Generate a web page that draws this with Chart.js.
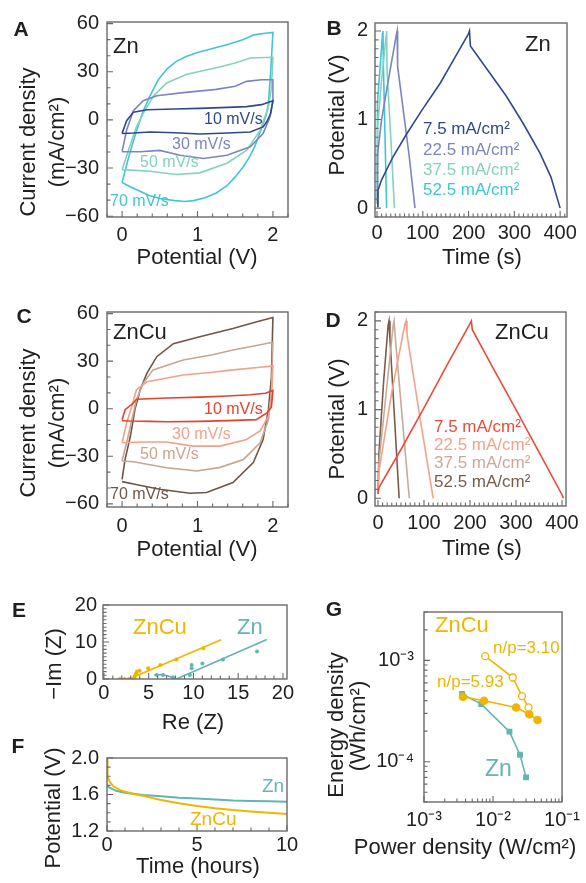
<!DOCTYPE html>
<html><head><meta charset="utf-8">
<script src="https://cdn.jsdelivr.net/npm/chart.js@4.4.1/dist/chart.umd.min.js"></script>
<style>
html,body{margin:0;padding:0;background:#fff;}
#wrap{position:relative;width:586px;height:883px;overflow:hidden;background:#fff;}
canvas{position:absolute;left:0;top:0;}
</style></head><body><div id="wrap">
<canvas id="cA" width="586" height="883"></canvas>
<canvas id="cB" width="586" height="883"></canvas>
<canvas id="cC" width="586" height="883"></canvas>
<canvas id="cD" width="586" height="883"></canvas>
<canvas id="cE" width="586" height="883"></canvas>
<canvas id="cF" width="586" height="883"></canvas>
<canvas id="cG" width="586" height="883"></canvas>
</div>
<script>
// ---------------- DATA ----------------
const scanRates = ['10 mV/s', '30 mV/s', '50 mV/s', '70 mV/s'];
const currents = ['7.5 mA/cm²', '22.5 mA/cm²', '37.5 mA/cm²', '52.5 mA/cm²'];

// Panel A: CV of Zn (potential V, current density mA/cm2)
const cvZn10 = [[0,-8.5],[0.06,-0.5],[0.15,4.8],[0.33,6.3],[0.7,6.8],[1.03,7.2],[1.4,7.8],[1.65,8.3],[1.85,9.5],[2.0,12],
  [1.97,4],[1.92,-1],[1.87,-4.4],[1.7,-7.5],[1.4,-8.2],[1.03,-8.8],[0.7,-8],[0.37,-7.5],[0.15,-8.2],[0,-8.5]];
const cvZn30 = [[0,-19.8],[0.06,-6.5],[0.15,5.8],[0.28,12],[0.46,15],[0.81,17],[1.25,19],[1.5,21],[1.65,24],[1.85,25],[2.0,25],
  [2.0,12],[1.96,1.7],[1.87,-8.5],[1.7,-16.7],[1.39,-22],[1.08,-24],[0.77,-22],[0.5,-19],[0.24,-19.8],[0,-19.8]];
const cvZn50 = [[0,-31],[0.1,-16.7],[0.19,-4.4],[0.3,5.8],[0.42,15],[0.59,23],[0.86,28.4],[1.25,32.5],[1.5,35.5],[1.7,38.6],[2.0,39],
  [1.98,20],[1.94,8],[1.83,-6.5],[1.65,-19],[1.39,-27],[1.03,-33],[0.72,-34],[0.37,-32],[0,-31]];
const cvZn70 = [[0,-39],[0.05,-30],[0.1,-21],[0.19,-7],[0.28,5.5],[0.37,15],[0.48,25],[0.6,32],[0.72,36.5],[0.85,39.5],[1.0,42],[1.2,44.5],[1.4,47],[1.6,50],[1.75,53],[1.9,54],[2.0,54.5],
  [1.985,42],[1.97,30],[1.955,20],[1.94,10],[1.91,3],[1.87,-2.5],[1.82,-9],[1.76,-16.5],[1.69,-23],[1.61,-29],[1.5,-35.5],[1.39,-41],[1.25,-45.5],[1.1,-48.5],[0.95,-50.3],[0.83,-50.8],[0.7,-50.3],[0.5,-49],[0.35,-47],[0.24,-44.5],[0.1,-41.5],[0,-39]];

// Panel C: CV of ZnCu
const cvCu10 = [[0,-6.9],[0.04,-0.6],[0.15,3.6],[0.19,6],[0.6,6.8],[1.03,7.3],[1.4,8],[1.7,8.8],[1.9,9.8],[2.0,11.5],
  [1.98,1],[1.92,-2.7],[1.78,-6.9],[1.4,-7.5],[1.03,-8],[0.6,-8.2],[0.37,-8],[0.1,-7.8],[0,-7.6]];
const cvCu30 = [[0,-21.5],[0.06,-9],[0.13,1.5],[0.19,12],[0.33,17],[0.81,21.3],[1.2,23],[1.47,24.5],[1.8,26],[2.0,27],
  [1.98,7.7],[1.94,-4.8],[1.83,-14],[1.65,-19.4],[1.3,-23.6],[0.94,-23.6],[0.59,-21],[0.3,-21],[0,-21.5]];
const cvCu50 = [[0,-33],[0.06,-21.5],[0.13,-7],[0.19,5.6],[0.28,16],[0.41,24.5],[0.81,30.7],[1.2,34],[1.47,37],[1.8,40],[2.0,42],
  [1.98,9.8],[1.94,-7],[1.83,-21.5],[1.61,-32],[1.3,-37],[0.99,-39.3],[0.59,-37.2],[0.15,-33.5],[0,-33]];
const cvCu70 = [[0,-44.5],[0.04,-32],[0.11,-17.4],[0.17,-0.6],[0.24,12],[0.33,22.4],[0.46,32.8],[0.68,41],[1.03,45.4],[1.47,50.6],[1.8,55],[2.0,57.5],
  [1.98,20],[1.94,-0.6],[1.87,-19.4],[1.74,-34],[1.47,-46.6],[1.12,-52.9],[0.9,-53.3],[0.5,-50.8],[0.2,-48],[0,-46]];

// Panel B: GCD of Zn (time s, potential V)
const gcdZn75 = [[0,0.02],[2,0.2],[10,0.32],[35,0.58],[65,0.84],[100,1.12],[138,1.41],[170,1.7],[200,1.97],[202,2.0],[204,1.83],[240,1.57],[283,1.26],[320,0.95],[356,0.62],[380,0.35],[400,0.0]];
const gcdZn225 = [[0,0.05],[1,0.6],[10,1.0],[25,1.45],[42,1.95],[44,2.0],[45,1.6],[55,1.2],[70,0.6],[83,0.0]];
const gcdZn375 = [[0,0.05],[1,0.9],[10,1.45],[20,1.95],[21,2.0],[22,1.55],[30,0.8],[38,0.0]];
const gcdZn525 = [[0,0.05],[1,1.2],[7,1.6],[12,1.97],[13,2.0],[14,1.6],[18,0.7],[21,0.0]];

// Panel D: GCD of ZnCu
const gcdCu75 = [[0,0.05],[2,0.12],[50,0.55],[100,1.02],[150,1.5],[200,1.97],[203,2.0],[205,1.9],[250,1.47],[300,1.0],[350,0.52],[400,0.04],[403,0]];
const gcdCu225 = [[0,0.05],[2,0.3],[30,1.2],[58,1.95],[61,2.0],[63,1.85],[90,0.95],[120,0.0]];
const gcdCu375 = [[0,0.05],[2,0.4],[20,1.3],[33,1.95],[35,2.0],[37,1.85],[52,0.95],[68,0.0]];
const gcdCu525 = [[0,0.05],[2,0.5],[12,1.3],[22,1.95],[24,2.0],[26,1.8],[36,0.9],[46,0.0]];

// Panel E: Nyquist (Re, -Im)
const nyqCuLine = [[1.5,0],[3.2,0.1],[3.4,0.6],[13.1,10.6]];
const nyqCuPts = [[1.8,0],[2.3,0],[2.8,0],[3.2,0.1],[3.4,0.5],[3.5,1.0],[3.6,1.5],[3.7,2.0],[4.0,2.2],[4.95,2.9],[6.3,3.8],[8.1,5.3],[11.1,8.3]];
const nyqZnLine = [[5.6,1.1],[6.4,1.2],[7.2,0.8],[8.1,0],[18.2,10.7]];
const nyqZnPts = [[5.9,1.1],[6.6,1.1],[7.7,0.5],[9.6,1.1],[9.8,2.9],[9.8,3.8],[11,4.2],[13.3,5.3],[17.1,7.4]];

// Panel F: self-discharge (hours, V)
const sdZn = [[0,1.7],[0.1,1.68],[0.5,1.64],[1,1.62],[2,1.595],[3,1.58],[4,1.565],[5,1.555],[6,1.545],[7,1.535],[8,1.53],[9,1.525],[10,1.52]];
const sdCu = [[0,1.99],[0.03,1.8],[0.15,1.74],[0.35,1.69],[0.7,1.65],[1,1.63],[1.5,1.605],[2,1.585],[3,1.54],[4,1.505],[5,1.475],[6,1.45],[7,1.43],[8,1.415],[9,1.4],[10,1.385]];

// Panel G: Ragone (W/cm2, Wh/cm2)
const powNp310 = [7.7e-3, 0.0193, 0.0263, 0.0327];
const engNp310 = [1.1e-3, 6.77e-4, 4.44e-4, 3.43e-4];
const powNp593 = [3.67e-3, 7.4e-3, 0.0216, 0.0335, 0.0442];
const engNp593 = [4.37e-4, 3.99e-4, 3.43e-4, 2.94e-4, 2.58e-4];
const powZn = [3.56e-3, 6.76e-3, 0.0173, 0.0246, 0.0301];
const engZn = [4.65e-4, 3.7e-4, 1.98e-4, 1.17e-4, 7.0e-5];

// Tick values and labels
const cvXTicks = [0, 1, 2], cvXLabels = ['0', '1', '2'];
const cvYTicks = [60, 30, 0, -30, -60], cvYLabels = ['60', '30', '0', '\u221230', '\u221260'];
const gcdXTicks = [0, 100, 200, 300, 400], gcdXLabels = ['0', '100', '200', '300', '400'];
const gcdYTicks = [0, 1, 2], gcdYLabels = ['0', '1', '2'];
const eisXTicks = [0, 5, 10, 15, 20], eisXLabels = ['0', '5', '10', '15', '20'];
const eisYTicks = [0, 10, 20], eisYLabels = ['0', '10', '20'];
const sdXTicks = [0, 5, 10], sdXLabels = ['0', '5', '10'];
const sdYTicks = [1.2, 1.6, 2.0], sdYLabels = ['1.2', '1.6', '2.0'];
const rgXTicks = [1e-3, 1e-2, 1e-1], rgXLabels = ['10\u207B\u00B3', '10\u207B\u00B2', '10\u207B\u00B9'];
const rgYTicks = [1e-4, 1e-3], rgYLabels = ['10\u207B\u2074', '10\u207B\u00B3'];

// ---------------- STYLE ----------------
const FONT = "'Liberation Sans', Arial, Helvetica, sans-serif";
const W = 586, H = 883;
const C = {
  zn10: '#2f4a8c', zn30: '#7d85bf', zn50: '#84d2bb', zn70: '#3ec6d8',
  cu10: '#e8402e', cu30: '#f4a088', cu50: '#c7a591', cu70: '#6f5646',
  d75: '#ec4a3a', d225: '#f5a18b', d375: '#c9aa98', d525: '#7a5c48',
  gold: '#f1b400', teal: '#62b4b6', ink: '#1f1f1f', axis: '#6a6a6a'
};
const pts = a => a.map(([x, y]) => ({x, y}));
const zip = (xs, ys) => xs.map((x, i) => ({x, y: ys[i]}));
const line = (data, color, w) => ({data: pts(data), showLine: true, borderColor: color, borderWidth: w || 1.6, pointRadius: 0, tension: 0, fill: false});

function tickValues(scale, spec) {
  const out = [];
  if (spec.log) {
    const d0 = Math.floor(Math.log10(scale.min)), d1 = Math.ceil(Math.log10(scale.max));
    for (let d = d0; d <= d1; d++) for (let m = 1; m <= 9; m++) {
      const v = m * Math.pow(10, d);
      if (v >= scale.min * 0.9999 && v <= scale.max * 1.0001) out.push({v, major: m === 1});
    }
  } else {
    const s = spec.step;
    for (let k = Math.ceil(scale.min / s - 1e-9); k * s <= scale.max + 1e-9; k++) {
      const v = k * s;
      out.push({v, major: spec.majors.some(m => Math.abs(m - v) < s / 2)});
    }
  }
  return out;
}

const decor = {
  id: 'decor',
  afterDraw(chart, args, o) {
    const ctx = chart.ctx, a = chart.chartArea;
    const xs = chart.scales.x, ys = chart.scales.y;
    ctx.save();
    ctx.strokeStyle = C.axis;
    ctx.lineWidth = 1.1;
    ctx.beginPath();
    for (const t of tickValues(xs, o.xt)) {
      const p = xs.getPixelForValue(t.v); const L = t.major ? 6 : 3.5;
      ctx.moveTo(p, a.bottom); ctx.lineTo(p, a.bottom - L);
    }
    for (const t of tickValues(ys, o.yt)) {
      const p = ys.getPixelForValue(t.v); const L = t.major ? 6 : 3.5;
      ctx.moveTo(a.left, p); ctx.lineTo(a.left + L, p);
    }
    ctx.stroke();
    ctx.lineWidth = 1.4;
    ctx.strokeRect(a.left, a.top, a.right - a.left, a.bottom - a.top);
    for (const t of o.texts) {
      ctx.save();
      ctx.font = (t.b ? 'bold ' : '') + (t.s || 22) + 'px ' + FONT;
      ctx.fillStyle = t.c || C.ink;
      ctx.textAlign = t.al || 'center';
      ctx.textBaseline = 'middle';
      ctx.translate(t.x, t.y);
      if (t.r) ctx.rotate(-Math.PI / 2);
      ctx.fillText(t.t, 0, 0);
      ctx.restore();
    }
    ctx.restore();
  }
};

function panel(id, cfg) {
  const YW = 50, XH = 40, box = cfg.box;
  const sc = (ax, isX) => ({
    type: ax.type || 'linear',
    position: isX ? 'bottom' : 'left',
    min: ax.min, max: ax.max,
    grid: {display: false, drawTicks: false},
    border: {display: false},
    ticks: {font: {family: FONT, size: 20}, color: C.ink, padding: ax.pad, autoSkip: false, maxRotation: 0, minRotation: 0,
      callback: (v, i) => ax.labels[i]},
    afterBuildTicks: s => { s.ticks = ax.ticks.map(v => ({value: v})); },
    afterFit: s => { if (isX) s.height = XH; else s.width = YW; }
  });
  return new Chart(document.getElementById(id), {
    type: 'scatter',
    data: {datasets: cfg.datasets},
    options: {
      responsive: false, animation: false, events: [],
      layout: {padding: {left: box.l - YW, top: box.t, right: W - box.r, bottom: H - box.b - XH}},
      plugins: {legend: {display: false}, tooltip: {enabled: false},
        decor: {xt: cfg.xt, yt: cfg.yt, texts: cfg.texts}},
      scales: {x: sc(cfg.x, true), y: sc(cfg.y, false)}
    },
    plugins: [decor]
  });
}

// ---------------- PANELS ----------------
panel('cA', {
  box: {l: 107, t: 22, r: 288, b: 217},
  x: {min: -0.2, max: 2.2, ticks: cvXTicks, labels: cvXLabels, pad: 6},
  y: {min: -60.5, max: 61, ticks: cvYTicks, labels: cvYLabels, pad: 8},
  xt: {step: 0.2, majors: cvXTicks}, yt: {step: 10, majors: cvYTicks},
  datasets: [line(cvZn10, C.zn10), line(cvZn30, C.zn30), line(cvZn50, C.zn50), line(cvZn70, C.zn70)],
  texts: [
    {t: 'A', x: 21, y: 30, s: 21, b: true},
    {t: 'Current density', x: 29, y: 142, r: true},
    {t: '(mA/cm²)', x: 58, y: 142, r: true},
    {t: 'Potential (V)', x: 197, y: 258},
    {t: 'Zn', x: 113, y: 47, al: 'left'},
    {t: scanRates[0], x: 204, y: 120, s: 16, c: C.zn10, al: 'left'},
    {t: scanRates[1], x: 172, y: 145, s: 16, c: C.zn30, al: 'left'},
    {t: scanRates[2], x: 140, y: 163, s: 16, c: C.zn50, al: 'left'},
    {t: scanRates[3], x: 110, y: 202, s: 16, c: C.zn70, al: 'left'}
  ]
});

panel('cB', {
  box: {l: 375, t: 23, r: 567, b: 217},
  x: {min: -4.4, max: 415, ticks: gcdXTicks, labels: gcdXLabels, pad: 4.5},
  y: {min: -0.1, max: 2.09, ticks: gcdYTicks, labels: gcdYLabels, pad: 7},
  xt: {step: 10, majors: gcdXTicks}, yt: {step: 0.1, majors: gcdYTicks},
  datasets: [line(gcdZn75, C.zn10), line(gcdZn225, C.zn30), line(gcdZn375, C.zn50), line(gcdZn525, C.zn70)],
  texts: [
    {t: 'B', x: 334, y: 29, s: 21, b: true},
    {t: 'Potential (V)', x: 338, y: 115, r: true},
    {t: 'Time (s)', x: 482, y: 258},
    {t: 'Zn', x: 525, y: 45, al: 'left'},
    {t: currents[0], x: 423, y: 129, s: 17, c: C.zn10, al: 'left'},
    {t: currents[1], x: 423, y: 150, s: 17, c: C.zn30, al: 'left'},
    {t: currents[2], x: 423, y: 170, s: 17, c: C.zn50, al: 'left'},
    {t: currents[3], x: 423, y: 190, s: 17, c: C.zn70, al: 'left'}
  ]
});

panel('cC', {
  box: {l: 107, t: 312, r: 288, b: 507},
  x: {min: -0.2, max: 2.2, ticks: cvXTicks, labels: cvXLabels, pad: 7},
  y: {min: -62, max: 61, ticks: cvYTicks, labels: cvYLabels, pad: 8},
  xt: {step: 0.2, majors: cvXTicks}, yt: {step: 10, majors: cvYTicks},
  datasets: [line(cvCu10, C.cu10), line(cvCu30, C.cu30), line(cvCu50, C.cu50), line(cvCu70, C.cu70)],
  texts: [
    {t: 'C', x: 24, y: 317, s: 21, b: true},
    {t: 'Current density', x: 29, y: 423, r: true},
    {t: '(mA/cm²)', x: 58, y: 423, r: true},
    {t: 'Potential (V)', x: 197, y: 550},
    {t: 'ZnCu', x: 113, y: 333, al: 'left'},
    {t: scanRates[0], x: 204, y: 410, s: 16, c: C.cu10, al: 'left'},
    {t: scanRates[1], x: 172, y: 435, s: 16, c: C.cu30, al: 'left'},
    {t: scanRates[2], x: 140, y: 455, s: 16, c: C.cu50, al: 'left'},
    {t: scanRates[3], x: 110, y: 495, s: 16, c: C.cu70, al: 'left'}
  ]
});

panel('cD', {
  box: {l: 375, t: 312, r: 566, b: 506},
  x: {min: -6.5, max: 408.7, ticks: gcdXTicks, labels: gcdXLabels, pad: 5},
  y: {min: -0.087, max: 2.1, ticks: gcdYTicks, labels: gcdYLabels, pad: 7},
  xt: {step: 10, majors: gcdXTicks}, yt: {step: 0.1, majors: gcdYTicks},
  datasets: [line(gcdCu75, C.d75), line(gcdCu225, C.d225), line(gcdCu375, C.d375), line(gcdCu525, C.d525)],
  texts: [
    {t: 'D', x: 333, y: 321, s: 21, b: true},
    {t: 'Potential (V)', x: 338, y: 419, r: true},
    {t: 'Time (s)', x: 482, y: 549},
    {t: 'ZnCu', x: 495, y: 333, al: 'left'},
    {t: currents[0], x: 434, y: 427, s: 17, c: C.d75, al: 'left'},
    {t: currents[1], x: 434, y: 445, s: 17, c: C.d225, al: 'left'},
    {t: currents[2], x: 434, y: 463, s: 17, c: C.d375, al: 'left'},
    {t: currents[3], x: 434, y: 482, s: 17, c: C.d525, al: 'left'}
  ]
});

panel('cE', {
  box: {l: 103, t: 605, r: 287, b: 679},
  x: {min: -0.1, max: 20.45, ticks: eisXTicks, labels: eisXLabels, pad: 2.5},
  y: {min: 0, max: 20, ticks: eisYTicks, labels: eisYLabels, pad: 6},
  xt: {step: 1, majors: eisXTicks}, yt: {step: 1, majors: eisYTicks},
  datasets: [
    line(nyqCuLine, C.gold, 1.6),
    {data: pts(nyqCuPts), showLine: false, pointRadius: 2, pointBackgroundColor: C.gold, pointBorderWidth: 0},
    line(nyqZnLine, C.teal, 1.6),
    {data: pts(nyqZnPts), showLine: false, pointRadius: 2, pointBackgroundColor: C.teal, pointBorderWidth: 0}
  ],
  texts: [
    {t: 'E', x: 19, y: 611, s: 21, b: true},
    {t: '\u2212Im (Z)', x: 55, y: 664, r: true},
    {t: 'Re (Z)', x: 193, y: 723},
    {t: 'ZnCu', x: 133, y: 628, c: C.gold, al: 'left'},
    {t: 'Zn', x: 237, y: 628, c: C.teal, al: 'left'}
  ]
});

panel('cF', {
  box: {l: 107, t: 758, r: 287, b: 831},
  x: {min: 0, max: 10, ticks: sdXTicks, labels: sdXLabels, pad: 2.5},
  y: {min: 1.2, max: 2.0, ticks: sdYTicks, labels: sdYLabels, pad: 8},
  xt: {step: 1, majors: sdXTicks}, yt: {step: 0.1, majors: sdYTicks},
  datasets: [line(sdCu, C.gold, 2), line(sdZn, C.teal, 2)],
  texts: [
    {t: 'F', x: 18, y: 747, s: 21, b: true},
    {t: 'Potential (V)', x: 54, y: 808, r: true},
    {t: 'Time (hours)', x: 198, y: 867},
    {t: 'Zn', x: 262, y: 787, s: 19, c: C.teal, al: 'left'},
    {t: 'ZnCu', x: 190, y: 820, s: 19, c: C.gold, al: 'left'}
  ]
});

panel('cG', {
  box: {l: 424, t: 612, r: 563, b: 802},
  x: {type: 'logarithmic', min: 1e-3, max: 1e-1, ticks: rgXTicks, labels: rgXLabels, pad: 6},
  y: {type: 'logarithmic', min: 4e-5, max: 3e-3, ticks: rgYTicks, labels: rgYLabels, pad: 10},
  xt: {log: true}, yt: {log: true},
  datasets: [
    {data: zip(powNp310, engNp310), showLine: true, borderColor: C.gold, borderWidth: 1.6, pointRadius: 3.5, pointBackgroundColor: '#fff', pointBorderColor: C.gold, pointBorderWidth: 1.3, tension: 0},
    {data: zip(powNp593, engNp593), showLine: true, borderColor: C.gold, borderWidth: 1.6, pointRadius: 3.5, pointBackgroundColor: C.gold, pointBorderColor: C.gold, tension: 0},
    {data: zip(powZn, engZn), showLine: true, borderColor: C.teal, borderWidth: 1.6, pointStyle: 'rect', pointRadius: 3, pointBackgroundColor: C.teal, pointBorderColor: C.teal, tension: 0}
  ],
  texts: [
    {t: 'G', x: 334, y: 610, s: 21, b: true},
    {t: 'Energy density', x: 337, y: 725, r: true},
    {t: '(Wh/cm²)', x: 359, y: 726, r: true},
    {t: 'Power density (W/cm²)', x: 465, y: 848},
    {t: 'ZnCu', x: 435, y: 626, c: C.gold, al: 'left'},
    {t: 'n/p=3.10', x: 493, y: 648, s: 17, c: C.gold, al: 'left'},
    {t: 'n/p=5.93', x: 437, y: 682, s: 17, c: C.gold, al: 'left'},
    {t: 'Zn', x: 485, y: 770, s: 23, c: C.teal, al: 'left'}
  ]
});
</script>
</body></html>
